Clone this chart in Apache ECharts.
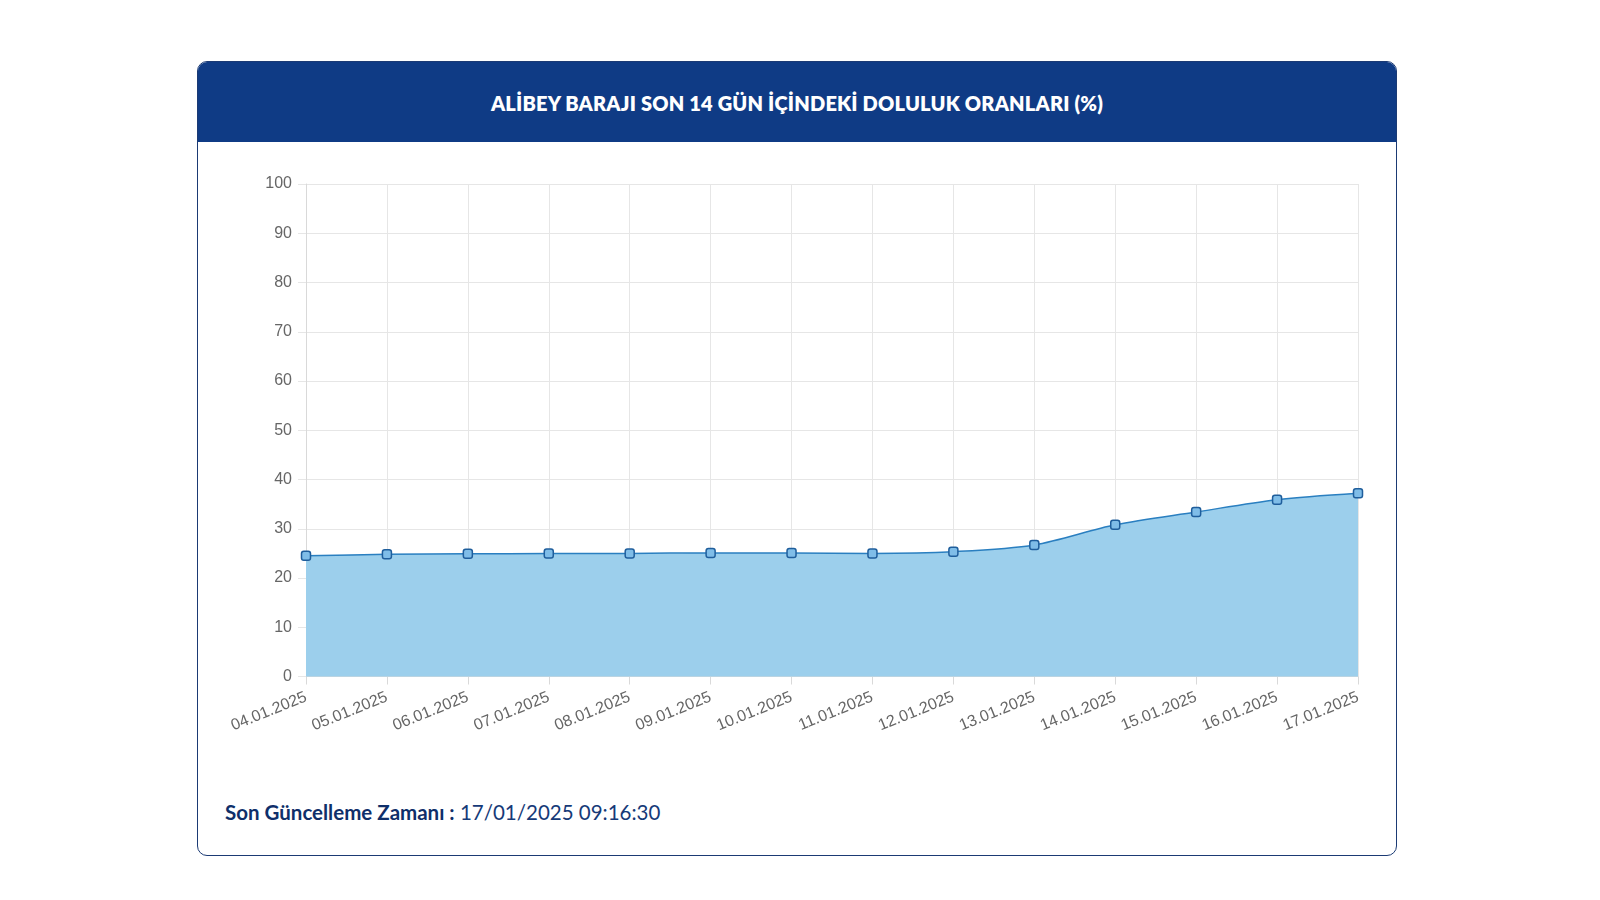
<!DOCTYPE html>
<html>
<head>
<meta charset="utf-8">
<script src="https://cdn.jsdelivr.net/npm/echarts@6/dist/echarts.min.js"></script>
<style>
  html, body { margin:0; padding:0; width:1600px; height:900px; background:#fff; overflow:hidden; }
  #card { position:absolute; left:197px; top:61px; width:1198px; height:793px; border:1.5px solid #1b3a74; border-radius:10px; overflow:hidden; background:#fff; }
  #head { position:absolute; left:0; top:0; right:0; height:80px; background:#0f3b85; color:#fff; font-family:"Lato","Open Sans",sans-serif; font-weight:800; font-size:20px; text-align:center; line-height:82px; letter-spacing:0.2px; }
  #foot { position:absolute; left:27px; top:738px; font-family:"Lato","Open Sans",sans-serif; font-size:20.5px; color:#163a78; }
  #foot b { font-weight:700; color:#0f2f6a; }
  #chart { position:absolute; left:0; top:0; width:1600px; height:900px; }
</style>
</head>
<body>
<div id="card">
  <div id="head">ALİBEY BARAJI SON 14 GÜN İÇİNDEKİ DOLULUK ORANLARI (%)</div>
  <div id="foot"><b>Son Güncelleme Zamanı :</b> 17/01/2025 09:16:30</div>
</div>
<div id="chart"></div>
<script>
const dates = ["04.01.2025","05.01.2025","06.01.2025","07.01.2025","08.01.2025","09.01.2025","10.01.2025","11.01.2025","12.01.2025","13.01.2025","14.01.2025","15.01.2025","16.01.2025","17.01.2025"];
const fillRates = [24.5, 24.8, 24.9, 24.95, 25.0, 25.1, 25.1, 25.0, 25.35, 26.7, 30.8, 33.4, 35.9, 37.2];
const yMin = 0, yMax = 100, yStep = 10;

const chart = echarts.init(document.getElementById('chart'));
chart.setOption({
  animation: false,
  grid: { left: 306, right: 242, top: 184, bottom: 223.5, containLabel: false },
  xAxis: {
    type: 'category', data: dates, boundaryGap: false,
    axisLine: { show: true, lineStyle: { color: '#d9d9d9', width: 1 } },
    axisTick: { show: true, alignWithLabel: true, length: 8, lineStyle: { color: '#d9d9d9' } },
    splitLine: { show: true, lineStyle: { color: '#e6e6e6', width: 1 } },
    axisLabel: { rotate: 22, margin: 20, color: '#666', fontSize: 16, fontFamily: 'Liberation Sans, Arial, sans-serif', interval: 0 }
  },
  yAxis: {
    type: 'value', min: yMin, max: yMax, interval: yStep,
    axisLine: { show: true, lineStyle: { color: '#d9d9d9', width: 1 } },
    axisTick: { show: true, length: 8, lineStyle: { color: '#e6e6e6' } },
    splitLine: { show: true, lineStyle: { color: '#e6e6e6', width: 1 } },
    axisLabel: { margin: 14, color: '#666', fontSize: 16, fontFamily: 'Liberation Sans, Arial, sans-serif' }
  },
  series: [{
    type: 'line', data: fillRates, smooth: 0.3,
    symbol: 'roundRect', symbolSize: 9, showAllSymbol: true,
    lineStyle: { color: '#2a7fc0', width: 1.5 },
    itemStyle: { color: '#7fbde8', borderColor: '#1f5e9c', borderWidth: 1.5 },
    areaStyle: { color: '#9ccfec', opacity: 1 },
    z: 3
  }]
});
</script>
</body>
</html>
